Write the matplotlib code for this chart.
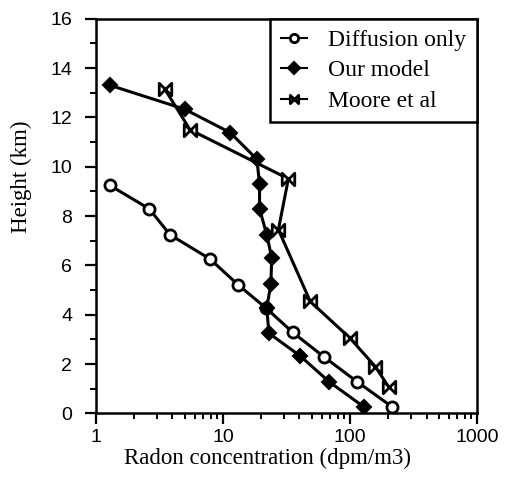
import matplotlib
matplotlib.use("Agg")
import matplotlib.pyplot as plt
from matplotlib.path import Path
from matplotlib.ticker import LogLocator, FixedLocator, NullFormatter

diff_x = [1.29, 2.63, 3.83, 7.9, 13.1, 21.8, 35.5, 62, 114, 214]
diff_y = [9.24, 8.29, 7.24, 6.26, 5.22, 4.27, 3.28, 2.30, 1.28, 0.27]

model_x = [1.29, 5.0, 11.4, 18.5, 19.4, 19.4, 22.1, 24.2, 23.8, 22.1, 23.0, 40.5, 68.6, 128]
model_y = [13.3, 12.33, 11.38, 10.3, 9.28, 8.29, 7.25, 6.3, 5.24, 4.27, 3.25, 2.33, 1.28, 0.27]

moore_x = [3.5, 5.5, 32.7, 27.3, 48.6, 100, 158, 201]
moore_y = [13.13, 11.5, 9.51, 7.45, 4.54, 3.05, 1.9, 1.08]

x_ticks = [1, 10, 100, 1000]
x_labels = ["1", "10", "100", "1000"]
y_ticks = [0, 2, 4, 6, 8, 10, 12, 14, 16]

bowtie = Path([(-1, -1), (1, 1), (1, -1), (-1, 1), (-1, -1)],
              [Path.MOVETO, Path.LINETO, Path.LINETO, Path.LINETO, Path.CLOSEPOLY])

fig = plt.figure(figsize=(5.13, 4.91), dpi=100)
ax = fig.add_axes([0.187, 0.158, 0.743, 0.804])

lw = 2.2
ax.plot(diff_x, diff_y, color="black", lw=lw, marker="o", ms=8,
        mfc="white", mec="black", mew=2, label="Diffusion only")
ax.plot(model_x, model_y, color="black", lw=lw, marker="D", ms=7,
        mfc="black", mec="black", mew=1.5, label="Our model")
ax.plot(moore_x, moore_y, color="black", lw=lw, marker=bowtie, ms=9,
        mfc="white", mec="black", mew=2, label="Moore et al")

ax.set_xscale("log")
ax.set_xlim(1, 1000)
ax.set_ylim(0, 16)
ax.xaxis.set_major_locator(FixedLocator(x_ticks))
ax.set_xticklabels(x_labels)
ax.xaxis.set_minor_locator(LogLocator(base=10, subs=range(2, 10)))
ax.xaxis.set_minor_formatter(NullFormatter())
ax.yaxis.set_major_locator(FixedLocator(y_ticks))
ax.yaxis.set_minor_locator(FixedLocator(range(0, 17)))

for s in ax.spines.values():
    s.set_linewidth(1.8)
ax.tick_params(which="major", direction="out", length=8, width=1.6,
               labelsize=14, top=False, right=False)
ax.tick_params(which="minor", direction="out", length=4, width=1.4,
               top=False, right=False)
ax.tick_params(axis="x", which="major", pad=3)
ax.tick_params(axis="y", which="major", pad=9)
for lab in ax.get_xticklabels() + ax.get_yticklabels():
    lab.set_family("Liberation Sans")

ax.set_xlabel("Radon concentration (dpm/m3)", family="Liberation Serif", fontsize=16.5)
ax.set_ylabel("Height (km)", family="Liberation Serif", fontsize=16.5)
ax.xaxis.set_label_coords(0.451, -0.086)
ax.yaxis.set_label_coords(-0.168, 0.60)

leg = ax.legend(loc="upper right", borderaxespad=0, fancybox=False,
                framealpha=1, edgecolor="black", handlelength=1.1,
                prop={"family": "Liberation Serif", "size": 17},
                borderpad=0.45, labelspacing=0.38, handletextpad=0.9)
leg.get_frame().set_linewidth(1.8)
for h in leg.legend_handles:
    h.set_markersize(6)
    h.set_linewidth(1.5)

fig.savefig("out.png", dpi=100)
